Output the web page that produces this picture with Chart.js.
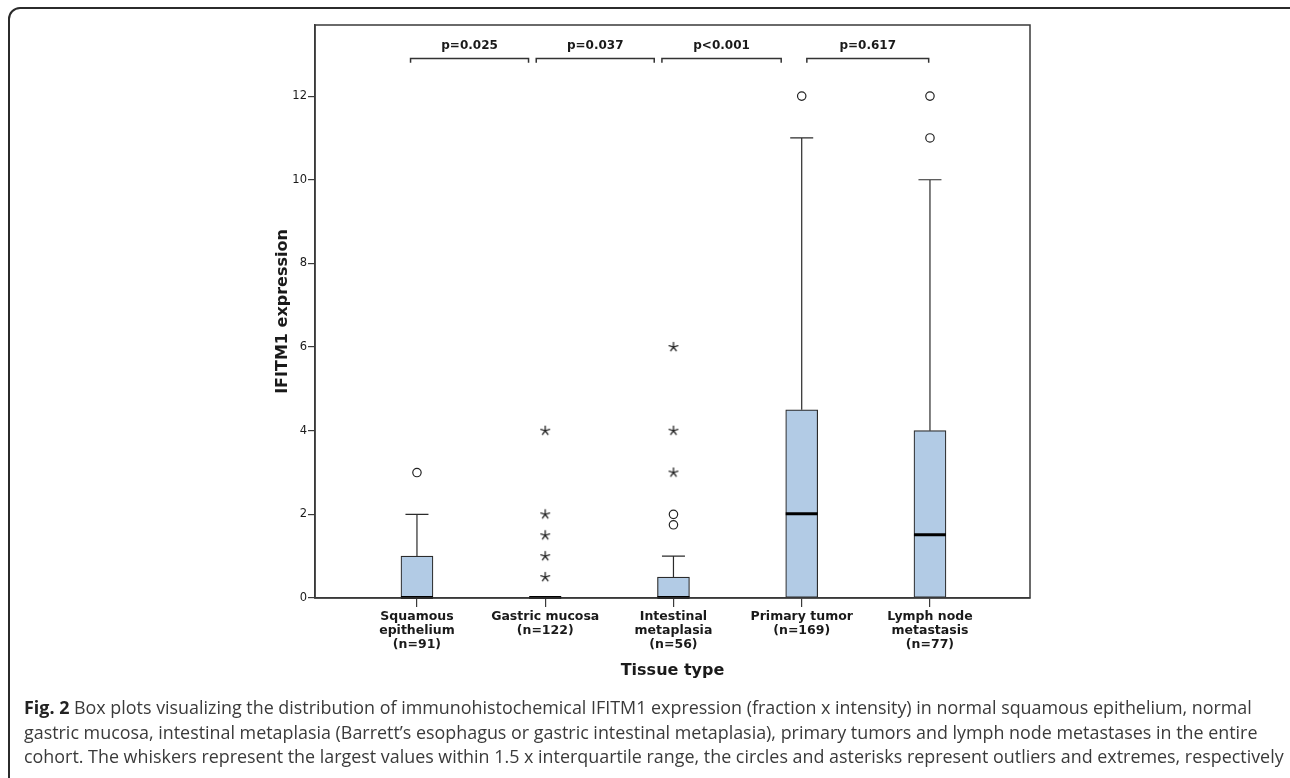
<!DOCTYPE html>
<html>
<head>
<meta charset="utf-8">
<script src="https://cdn.jsdelivr.net/npm/chart.js@4.4.1/dist/chart.umd.min.js"></script>
<style>
    html, body { margin: 0; padding: 0; background: #fff; width: 1290px; height: 778px; overflow: hidden; }
    #frame { position: absolute; left: 8px; top: 7px; width: 1300px; height: 800px; border: 2px solid #2b2b2b; border-radius: 12px; box-sizing: border-box; }
    #chart { position: absolute; left: 0; top: 0; }
    #caption { position: absolute; left: 24px; top: 695px; font-family: 'Open Sans', sans-serif; font-size: 17.9px; line-height: 24.5px; color: #3a3a3a; white-space: nowrap; }
    #caption b { color: #222; }
</style>
</head>
<body>
<div id="frame"></div>
<canvas id="chart" width="1290" height="700"></canvas>
<div id="caption"><b>Fig. 2</b> Box plots visualizing the distribution of immunohistochemical IFITM1 expression (fraction x intensity) in normal squamous epithelium, normal<br>gastric mucosa, intestinal metaplasia (Barrett’s esophagus or gastric intestinal metaplasia), primary tumors and lymph node metastases in the entire<br>cohort. The whiskers represent the largest values within 1.5 x interquartile range, the circles and asterisks represent outliers and extremes, respectively</div>
<script>
    //Box plot values
    const categories = ['Squamous epithelium', 'Gastric mucosa', 'Intestinal metaplasia', 'Primary tumor', 'Lymph node metastasis'];
    const tickLabels = [
        ['Squamous', 'epithelium', '(n=91)'],
        ['Gastric mucosa', '(n=122)'],
        ['Intestinal', 'metaplasia', '(n=56)'],
        ['Primary tumor', '(n=169)'],
        ['Lymph node', 'metastasis', '(n=77)']
    ];
    const q1 = [0, 0, 0, 0, 0];
    const median = [0, 0, 0, 2, 1.5];
    const q3 = [1, 0, 0.5, 4.5, 4];
    const whiskerLow = [0, 0, 0, 0, 0];
    const whiskerHigh = [2, 0, 1, 11, 10];

    //Circles (outliers)
    const outlierCat = [0, 2, 2, 3, 4, 4];
    const outlierVal = [3, 2, 1.75, 12, 12, 11];

    //Asterisks (extremes)
    const extremeCat = [1, 1, 1, 1, 1, 2, 2, 2];
    const extremeVal = [4, 2, 1.5, 1, 0.5, 6, 4, 3];

    const yTicks = [0, 2, 4, 6, 8, 10, 12];

    //Significance brackets (x in category units)
    const pLabels = ['p=0.025', 'p=0.037', 'p<0.001', 'p=0.617'];
    const pFrom = [-0.05, 0.93, 1.91, 3.04];
    const pTo = [0.87, 1.85, 2.84, 3.99];

    function makeAsterisk() {
        let c = document.createElement('canvas');
        c.width = 12;
        c.height = 12;
        let g = c.getContext('2d');
        g.strokeStyle = '#222';
        g.lineWidth = 1.3;
        g.lineCap = 'round';
        for (let k = 0; k < 5; k++) {
            let a = -Math.PI / 2 + k * 2 * Math.PI / 5;
            g.beginPath();
            g.moveTo(6, 6);
            g.lineTo(6 + 4.6 * Math.cos(a), 6 + 4.6 * Math.sin(a));
            g.stroke();
        }
        return c;
    }

    const boxExtras = {
        id: 'boxExtras',
        afterDatasetsDraw(chart) {
            let ctx = chart.ctx;
            let x = chart.scales.x;
            let y = chart.scales.y;
            let area = chart.chartArea;
            ctx.save();

            //whiskers
            ctx.strokeStyle = '#2b2b2b';
            ctx.lineWidth = 1.2;
            for (let i = 0; i < categories.length; i++) {
                let cx = x.getPixelForValue(i);
                if (whiskerHigh[i] > q3[i]) {
                    let top = y.getPixelForValue(whiskerHigh[i]);
                    ctx.beginPath();
                    ctx.moveTo(cx, y.getPixelForValue(q3[i]));
                    ctx.lineTo(cx, top);
                    ctx.moveTo(cx - 11.5, top);
                    ctx.lineTo(cx + 11.5, top);
                    ctx.stroke();
                }
                if (whiskerLow[i] < q1[i]) {
                    let bot = y.getPixelForValue(whiskerLow[i]);
                    ctx.beginPath();
                    ctx.moveTo(cx, y.getPixelForValue(q1[i]));
                    ctx.lineTo(cx, bot);
                    ctx.moveTo(cx - 11.5, bot);
                    ctx.lineTo(cx + 11.5, bot);
                    ctx.stroke();
                }
            }

            //medians
            ctx.strokeStyle = '#000';
            ctx.lineWidth = 3;
            for (let i = 0; i < categories.length; i++) {
                let cx = x.getPixelForValue(i);
                let my = y.getPixelForValue(median[i]) - 0.5;
                ctx.beginPath();
                ctx.moveTo(cx - 16, my);
                ctx.lineTo(cx + 16, my);
                ctx.stroke();
            }

            //plot frame
            ctx.strokeStyle = '#3a3a3a';
            ctx.lineWidth = 1.5;
            ctx.strokeRect(area.left, area.top, area.right - area.left, area.bottom - area.top);

            //brackets
            ctx.strokeStyle = '#333';
            ctx.lineWidth = 1.5;
            ctx.fillStyle = '#1a1a1a';
            ctx.font = 'bold 12px "DejaVu Sans"';
            ctx.textAlign = 'center';
            ctx.textBaseline = 'middle';
            let by = y.getPixelForValue(12.9);
            let bd = y.getPixelForValue(12.8);
            for (let i = 0; i < pLabels.length; i++) {
                let x0 = x.getPixelForValue(pFrom[i]);
                let x1 = x.getPixelForValue(pTo[i]);
                ctx.beginPath();
                ctx.moveTo(x0, bd);
                ctx.lineTo(x0, by);
                ctx.lineTo(x1, by);
                ctx.lineTo(x1, bd);
                ctx.stroke();
                ctx.fillText(pLabels[i], (x0 + x1) / 2, y.getPixelForValue(13.2));
            }
            ctx.restore();
        }
    };

    new Chart(document.getElementById('chart'), {
        type: 'bar',
        data: {
            datasets: [
                {
                    type: 'bar',
                    data: categories.map((c, i) => ({ x: i, y: [q1[i], q3[i]] })),
                    backgroundColor: '#b2cbe5',
                    borderColor: '#2b2b2b',
                    borderWidth: 1.2,
                    borderSkipped: false,
                    barThickness: 32
                },
                {
                    type: 'scatter',
                    data: outlierCat.map((c, i) => ({ x: c, y: outlierVal[i] })),
                    pointStyle: 'circle',
                    pointRadius: 4.2,
                    pointBorderWidth: 1.2,
                    pointBorderColor: '#222',
                    pointBackgroundColor: '#fff'
                },
                {
                    type: 'scatter',
                    data: extremeCat.map((c, i) => ({ x: c, y: extremeVal[i] })),
                    pointStyle: makeAsterisk(),
                    pointRadius: 6
                }
            ]
        },
        options: {
            responsive: false,
            animation: false,
            layout: { padding: { left: 255, right: 260, top: 25, bottom: 10 } },
            plugins: {
                legend: { display: false },
                tooltip: { enabled: false }
            },
            scales: {
                x: {
                    type: 'linear',
                    min: -0.795,
                    max: 4.78,
                    offset: false,
                    afterBuildTicks: s => { s.ticks = categories.map((c, i) => ({ value: i })); },
                    afterFit: s => { s.height = 92; },
                    grid: { offset: false, drawOnChartArea: false, tickLength: 9, color: '#3a3a3a', lineWidth: 1.2 },
                    border: { color: '#3a3a3a', width: 1.5 },
                    ticks: {
                        autoSkip: false,
                        maxRotation: 0,
                        padding: 3,
                        color: '#1a1a1a',
                        font: { family: 'DejaVu Sans', weight: 'bold', size: 12.5, lineHeight: 1.12 },
                        callback: v => tickLabels[v]
                    },
                    title: {
                        display: true,
                        text: 'Tissue type',
                        color: '#1a1a1a',
                        font: { family: 'DejaVu Sans', weight: 'bold', size: 16 },
                        padding: { top: 0, bottom: 10 }
                    }
                },
                y: {
                    min: 0,
                    max: 13.7,
                    afterBuildTicks: s => { s.ticks = yTicks.map(v => ({ value: v })); },
                    afterFit: s => { s.width = 60; },
                    grid: { drawOnChartArea: false, tickLength: 7, color: '#3a3a3a', lineWidth: 1.2 },
                    border: { color: '#3a3a3a', width: 1.5 },
                    ticks: {
                        padding: 1,
                        color: '#1a1a1a',
                        font: { family: 'DejaVu Sans', size: 11.5 }
                    },
                    title: {
                        display: true,
                        text: 'IFITM1 expression',
                        color: '#1a1a1a',
                        font: { family: 'DejaVu Sans', weight: 'bold', size: 16 },
                        padding: { top: 18, bottom: 0 }
                    }
                }
            }
        },
        plugins: [boxExtras]
    });
</script>
</body>
</html>
